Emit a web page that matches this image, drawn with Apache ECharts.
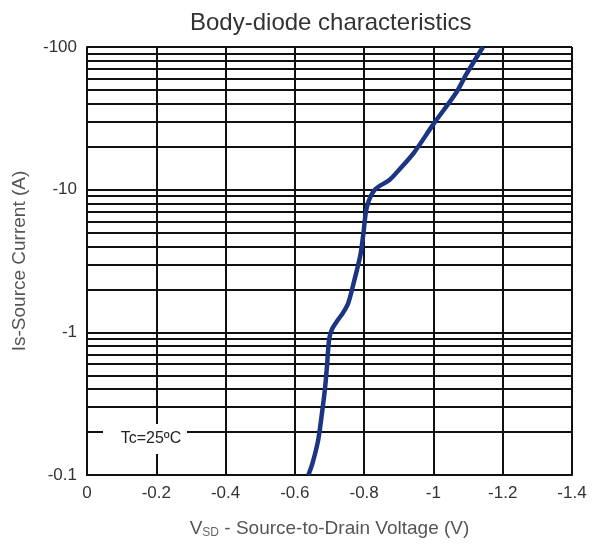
<html>
<head>
    <meta charset="utf-8">
    <title>Body-diode characteristics</title>
    <script src="https://cdn.jsdelivr.net/npm/echarts@6/dist/echarts.min.js"></script>
</head>
<body style="margin:0">
<div id="main" style="width: 609px;height:545px;"></div>
<script type="text/javascript">
    // V_SD (V) and Is (A), Tc = 25C
    var vsd = [-0.639, -0.651, -0.667, -0.678, -0.687, -0.693, -0.699, -0.707, -0.722, -0.739, -0.754, -0.769, -0.789, -0.797, -0.808, -0.831, -0.873, -0.901, -0.944, -1.0, -1.066, -1.096, -1.143];
    var is = [-0.1, -0.121, -0.174, -0.268, -0.404, -0.59, -0.895, -1.05, -1.2, -1.37, -1.6, -2.18, -3.47, -4.74, -7.56, -10, -11.7, -13.8, -18.2, -28.8, -48, -65, -100];
    // minor log grid lines (2..9 of each decade)
    var yMinor = [-0.2, -0.3, -0.4, -0.5, -0.6, -0.7, -0.8, -0.9,
                  -2, -3, -4, -5, -6, -7, -8, -9,
                  -20, -30, -40, -50, -60, -70, -80, -90];

    var font = 'Liberation Sans, Arial, sans-serif';
    var myChart = echarts.init(document.getElementById('main'));

    var pts = [];
    for (var i = 0; i < vsd.length; i++) {
        pts.push([Math.abs(vsd[i]), Math.abs(is[i])]);
    }
    var minorLines = yMinor.map(function (v) { return { yAxis: Math.abs(v) }; });

    myChart.setOption({
        animation: false,
        title: {
            text: 'Body-diode characteristics',
            left: 185,
            top: 6,
            textStyle: { fontSize: 24, fontWeight: 'normal', color: '#333', fontFamily: font }
        },
        grid: { left: 87, right: 37, top: 47, bottom: 70 },
        xAxis: {
            type: 'value',
            min: 0,
            max: 1.4,
            interval: 0.2,
            name: '{v|V}{s|SD}{t| - Source-to-Drain Voltage (V)}',
            nameLocation: 'middle',
            nameGap: 43,
            nameTextStyle: {
                rich: {
                    v: { fontSize: 19, color: '#555', fontFamily: font },
                    s: { fontSize: 12, color: '#666', fontFamily: font, padding: [9, 0, 0, 0] },
                    t: { fontSize: 19, color: '#555', fontFamily: font }
                }
            },
            axisLine: { show: true, lineStyle: { color: '#111', width: 2 } },
            axisTick: { show: false },
            axisLabel: {
                fontSize: 17, color: '#333', fontFamily: font, margin: 10,
                showMinLabel: true, showMaxLabel: true,
                formatter: function (v) { return v === 0 ? '0' : '-' + v; }
            },
            splitLine: { show: true, lineStyle: { color: '#111', width: 2 } }
        },
        yAxis: {
            type: 'log',
            logBase: 10,
            min: 0.1,
            max: 100,
            name: 'Is-Source Current (A)',
            nameLocation: 'middle',
            nameGap: 58,
            nameTextStyle: { fontSize: 19, color: '#555', fontFamily: font },
            axisLine: { show: true, lineStyle: { color: '#111', width: 2 } },
            axisTick: { show: false },
            axisLabel: {
                fontSize: 17, color: '#333', fontFamily: font, margin: 10,
                showMinLabel: true, showMaxLabel: true,
                formatter: function (v) { return '-' + v; }
            },
            splitLine: { show: true, lineStyle: { color: '#111', width: 2 } }
        },
        // white label box for the temperature note, covering the grid behind it
        graphic: [{
            type: 'rect',
            shape: { x: 103, y: 424, width: 84, height: 30 },
            style: { fill: '#fff' },
            z: 100
        }, {
            type: 'text',
            x: 151,
            y: 439,
            style: {
                text: 'Tc=25\u00baC',
                fontSize: 16,
                fontFamily: font,
                fill: '#222',
                align: 'center',
                verticalAlign: 'middle'
            },
            z: 101
        }],
        series: [{
            type: 'line',
            data: pts,
            smooth: 0.3,
            showSymbol: false,
            lineStyle: { color: '#1b3583', width: 4.5 },
            z: 10,
            markLine: {
                silent: true,
                symbol: 'none',
                label: { show: false },
                lineStyle: { color: '#111', width: 2, type: 'solid' },
                data: minorLines,
                z: 1
            }
        }]
    });
</script>
</body>
</html>
